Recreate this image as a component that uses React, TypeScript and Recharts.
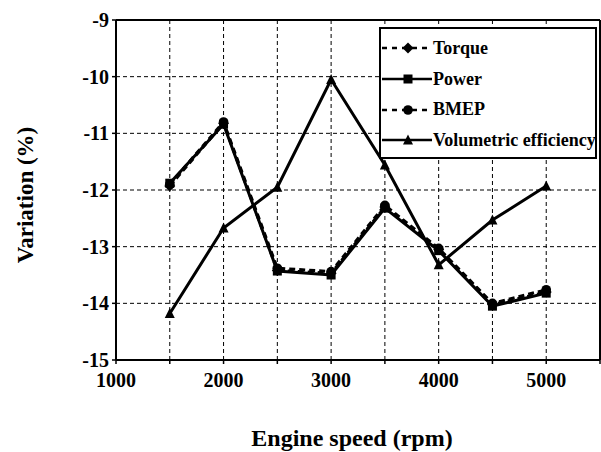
import React from "react"
import {
  LineChart,
  Line,
  XAxis,
  YAxis,
  CartesianGrid,
  ReferenceLine,
  Label,
} from "recharts"

const speeds = [1500, 2000, 2500, 3000, 3500, 4000, 4500, 5000]
const torque = [-11.93, -10.82, -13.42, -13.47, -12.3, -13.05, -14.02, -13.8]
const power = [-11.88, -10.84, -13.43, -13.5, -12.32, -13.07, -14.05, -13.82]
const bmep = [-11.9, -10.8, -13.38, -13.44, -12.27, -13.03, -14.0, -13.76]
const volumetric = [-14.18, -12.67, -11.95, -10.05, -11.56, -13.32, -12.53, -11.93]

const xTicks = [1000, 1500, 2000, 2500, 3000, 3500, 4000, 4500, 5000, 5500]
const yTicks = [-15, -14, -13, -12, -11, -10, -9]

const data = speeds.map((s, i) => ({
  speed: s,
  torque: torque[i],
  power: power[i],
  bmep: bmep[i],
  volumetric: volumetric[i],
}))

const FONT = "'Liberation Serif', 'DejaVu Serif', serif"
const tickStyle = { fontSize: 20, fontWeight: 700, fill: "#000", fontFamily: FONT }

type Shape = "diamond" | "square" | "circle" | "triangle"

function marker(shape: Shape, cx: number, cy: number, key?: string | number) {
  if (shape === "diamond")
    return (
      <polygon
        key={key}
        points={`${cx},${cy - 5.5} ${cx + 5.5},${cy} ${cx},${cy + 5.5} ${cx - 5.5},${cy}`}
        fill="#000"
      />
    )
  if (shape === "square")
    return <rect key={key} x={cx - 4.5} y={cy - 4.5} width={9} height={9} fill="#000" />
  if (shape === "circle") return <circle key={key} cx={cx} cy={cy} r={4.8} fill="#000" />
  return (
    <polygon
      key={key}
      points={`${cx},${cy - 5.5} ${cx + 5},${cy + 4.5} ${cx - 5},${cy + 4.5}`}
      fill="#000"
    />
  )
}

const dotFor = (shape: Shape) => (p: any) => marker(shape, p.cx, p.cy, p.key ?? p.index)

const legendItems: { name: string; shape: Shape; dashed: boolean }[] = [
  { name: "Torque", shape: "diamond", dashed: true },
  { name: "Power", shape: "square", dashed: false },
  { name: "BMEP", shape: "circle", dashed: true },
  { name: "Volumetric efficiency", shape: "triangle", dashed: false },
]

function ChartLegend() {
  return (
    <div
      style={{
        position: "absolute",
        left: 379,
        top: 27,
        width: 214,
        height: 124,
        border: "2px solid #000",
        background: "#fff",
        paddingTop: 4,
        boxSizing: "content-box",
      }}
    >
      {legendItems.map((it) => (
        <div key={it.name} style={{ display: "flex", alignItems: "center", height: 30.7 }}>
          <svg width={52} height={14} style={{ flex: "none" }}>
            <line
              x1={1}
              y1={7}
              x2={51}
              y2={7}
              stroke="#000"
              strokeWidth={2.5}
              strokeDasharray={it.dashed ? "5 5" : undefined}
            />
            {marker(it.shape, 27, 7)}
          </svg>
          <span
            style={{
              fontFamily: FONT,
              fontWeight: 700,
              fontSize: 18,
              color: "#000",
              whiteSpace: "nowrap",
            }}
          >
            {it.name}
          </span>
        </div>
      ))}
    </div>
  )
}

export default function App() {
  return (
    <div style={{ position: "absolute", left: 0, top: 0, width: 601, height: 452, background: "#fff" }}>
      <LineChart width={601} height={452} data={data} margin={{ top: 20, right: 1, left: 0, bottom: 0 }}>
        <CartesianGrid stroke="#000" strokeWidth={1} strokeDasharray="4 3" />
        <XAxis
          dataKey="speed"
          type="number"
          domain={[1000, 5500]}
          ticks={xTicks}
          tickFormatter={(v: number) => (v % 1000 === 0 ? String(v) : "")}
          height={92}
          tick={tickStyle}
          tickSize={4}
          tickMargin={9}
          axisLine={{ stroke: "#000", strokeWidth: 2 }}
          tickLine={{ stroke: "#000", strokeWidth: 1.5 }}
          interval={0}
        >
          <Label
            content={() => (
              <text x={352} y={446} textAnchor="middle" fontFamily={FONT} fontWeight={700} fontSize={24} fill="#000">
                Engine speed (rpm)
              </text>
            )}
          />
        </XAxis>
        <YAxis
          type="number"
          domain={[-15, -9]}
          ticks={yTicks}
          width={116}
          tick={tickStyle}
          tickSize={4}
          tickMargin={3}
          axisLine={{ stroke: "#000", strokeWidth: 2 }}
          tickLine={{ stroke: "#000", strokeWidth: 1.5 }}
          interval={0}
        >
          <Label
            content={() => (
              <text
                x={33}
                y={195}
                transform="rotate(-90 33 195)"
                textAnchor="middle"
                fontFamily={FONT}
                fontWeight={700}
                fontSize={23}
                fill="#000"
              >
                Variation (%)
              </text>
            )}
          />
        </YAxis>
        <ReferenceLine y={-9} stroke="#000" strokeWidth={2} />
        <ReferenceLine x={5500} stroke="#000" strokeWidth={2} />
        <Line
          dataKey="volumetric"
          stroke="#000"
          strokeWidth={3}
          dot={dotFor("triangle")}
          isAnimationActive={false}
        />
        <Line
          dataKey="bmep"
          stroke="#000"
          strokeWidth={3}
          strokeDasharray="6 4"
          dot={dotFor("circle")}
          isAnimationActive={false}
        />
        <Line
          dataKey="torque"
          stroke="#000"
          strokeWidth={3}
          strokeDasharray="6 4"
          dot={dotFor("diamond")}
          isAnimationActive={false}
        />
        <Line
          dataKey="power"
          stroke="#000"
          strokeWidth={3}
          dot={dotFor("square")}
          isAnimationActive={false}
        />
      </LineChart>
      <ChartLegend />
    </div>
  )
}
